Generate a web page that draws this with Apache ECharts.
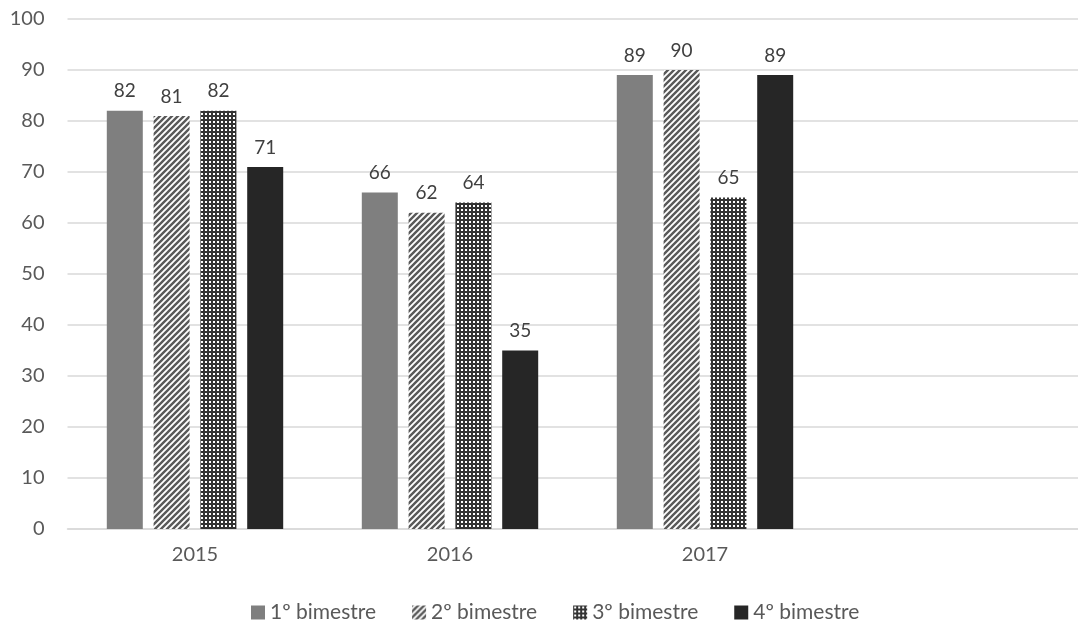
<!DOCTYPE html>
<html>
<head>
<meta charset="utf-8">
<script src="https://cdn.jsdelivr.net/npm/echarts@6/dist/echarts.min.js"></script>
<style>
  html, body { margin: 0; padding: 0; background: #fff; }
  #chart { width: 1078px; height: 623px; }
</style>
</head>
<body>
<div id="chart"></div>
<script>
// Years shown on the x axis (the last slot is left empty)
const categories = ['2015', '2016', '2017', ''];
const seriesNames = ['1º bimestre', '2º bimestre', '3º bimestre', '4º bimestre'];
const bim1 = [82, 66, 89];
const bim2 = [81, 62, 90];
const bim3 = [82, 64, 65];
const bim4 = [71, 35, 89];
const yTicks = { min: 0, max: 100, interval: 10 };

// Diagonal stripe fill
function stripePattern() {
  const c = document.createElement('canvas');
  c.width = 6; c.height = 6;
  const g = c.getContext('2d');
  g.fillStyle = '#ffffff';
  g.fillRect(0, 0, 6, 6);
  g.strokeStyle = '#595959';
  g.lineWidth = 2.4;
  g.beginPath();
  g.moveTo(-1, 7); g.lineTo(7, -1);
  g.moveTo(-4, 4); g.lineTo(4, -4);
  g.moveTo(2, 10); g.lineTo(10, 2);
  g.stroke();
  return c;
}

// Dark fill with small white dots
function dotPattern() {
  const c = document.createElement('canvas');
  c.width = 4; c.height = 4;
  const g = c.getContext('2d');
  g.fillStyle = '#333333';
  g.fillRect(0, 0, 4, 4);
  g.fillStyle = '#ffffff';
  g.fillRect(1, 1, 2, 2);
  return c;
}

const fills = [
  '#7f7f7f',
  { image: stripePattern(), repeat: 'repeat' },
  { image: dotPattern(), repeat: 'repeat' },
  '#262626'
];
const values = [bim1, bim2, bim3, bim4];

const FONT = 'Lato';

const chart = echarts.init(document.getElementById('chart'), null, { renderer: 'canvas' });
chart.setOption({
  animation: false,
  backgroundColor: '#ffffff',
  textStyle: { fontFamily: FONT },
  // the plot area runs a little past the right edge of the canvas
  grid: { left: 67.5, width: 1020, top: 19, bottom: 94, containLabel: false, outerBoundsMode: 'none' },
  legend: {
    top: 597,
    left: 246,
    itemWidth: 14,
    itemHeight: 14,
    itemGap: 36,
    icon: 'rect',
    textStyle: { fontFamily: FONT, fontSize: 21, color: '#595959' },
    data: seriesNames
  },
  xAxis: {
    type: 'category',
    data: categories,
    axisLine: { lineStyle: { color: '#d9d9d9', width: 1.5 } },
    axisTick: { show: false },
    axisLabel: { color: '#595959', fontSize: 20, margin: 16, fontFamily: FONT }
  },
  yAxis: {
    type: 'value',
    min: yTicks.min,
    max: yTicks.max,
    interval: yTicks.interval,
    axisLine: { show: false },
    axisTick: { show: false },
    splitLine: { lineStyle: { color: '#d9d9d9', width: 1.5 } },
    axisLabel: { color: '#595959', fontSize: 20, margin: 23, fontFamily: FONT }
  },
  series: seriesNames.map((name, i) => ({
    name: name,
    type: 'bar',
    data: values[i],
    barWidth: 36,
    barGap: '30%',
    itemStyle: { color: fills[i] },
    label: {
      show: true,
      position: 'top',
      distance: 10,
      color: '#404040',
      fontSize: 19,
      fontFamily: FONT
    }
  }))
});
</script>
</body>
</html>
